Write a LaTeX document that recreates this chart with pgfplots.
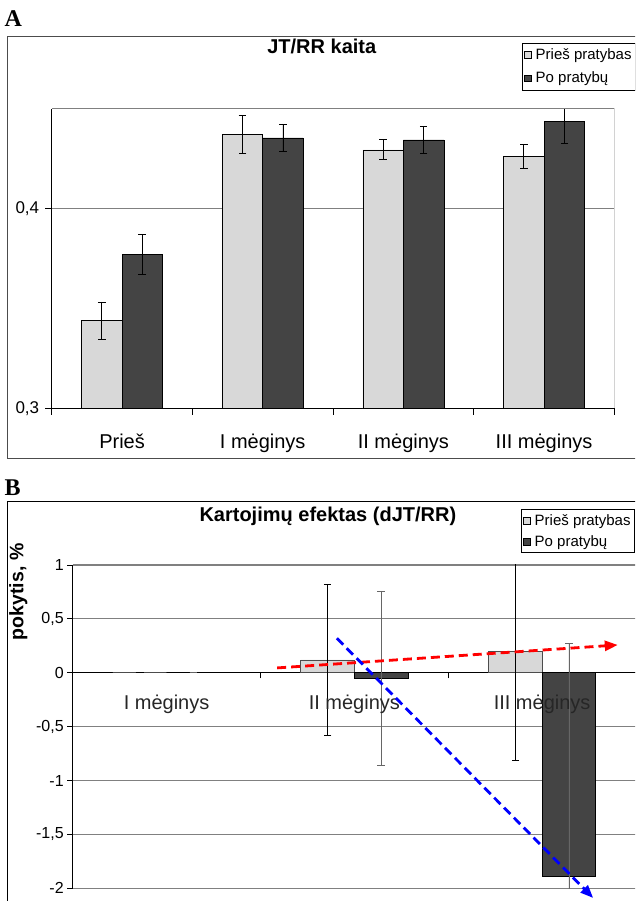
\documentclass[border=0pt]{standalone}
\usepackage{pgfplots}
\pgfplotsset{compat=1.18}
\usepackage{pgfplotstable}
\usepackage{fontspec}
\setmainfont{Liberation Sans}
\newfontfamily\lserif{Liberation Serif}
\usetikzlibrary{arrows.meta}
\definecolor{barlight}{RGB}{216,216,216}
\definecolor{bardark}{RGB}{68,68,68}
\definecolor{gridgray}{RGB}{128,128,128}

\pgfplotstableread{
x light lighterr dark darkerr
0 0.3440 0.0093 0.3770 0.0100
1 0.4373 0.0095 0.4355 0.0070
2 0.4295 0.0050 0.4345 0.0067
3 0.4261 0.0060 0.4439 0.0113
}\tableA

\pgfplotstableread{
x light lighterr dark darkerr
0 0.00 0.00 0.00 0.00
1 0.12 0.70 -0.05 0.81
2 0.20 1.01 -1.89 2.16
}\tableB

\pgfplotsset{
  legsq/.style={legend image code/.code={\draw[##1,draw=black,line width=0.5pt] (0pt,-3.3pt) rectangle (6.6pt,3.3pt); \path[draw=none,fill=none] (9.5pt,0pt) circle[radius=0pt];}},
}

\begin{document}
\begin{tikzpicture}
\useasboundingbox (0pt,0pt) rectangle (635pt,901pt);
\clip (0pt,0pt) rectangle (635pt,901pt);

% ---------- Panel A ----------
\draw[line width=1.2pt, black!70] (7.3pt,864.5pt) rectangle (720pt,442.7pt);
\node[anchor=base west, inner sep=0pt, font=\lserif\bfseries\fontsize{24}{24}\selectfont] at (4.5pt,874.3pt) {A};

\begin{axis}[
  at={(51.7pt,492.7pt)}, anchor=south west,
  scale only axis, width=562.7pt, height=299.4pt,
  xmin=-0.5, xmax=3.5, ymin=0.3, ymax=0.45,
  ybar=0pt, bar width=40.5pt,
  axis x line*=bottom, axis y line*=left,
  axis line style={black, line width=0.9pt, -},
  xtick={-0.5,0.5,1.5,2.5,3.5}, xticklabels={},
  extra x ticks={0,1,2,3},
  extra x tick labels={Prieš, I mėginys, II mėginys, III mėginys},
  extra x tick style={major tick length=0pt},
  xticklabel style={font=\fontsize{20}{24}\selectfont, anchor=base, yshift=-40pt},
  ytick={0.3,0.4}, ymajorgrids,
  grid style={gridgray, line width=1.3pt},
  tick align=outside, major tick length=6.5pt,
  tick style={black, line width=0.8pt},
  yticklabel style={font=\fontsize{17}{20}\selectfont, xshift=-2.5pt},
  /pgf/number format/use comma, /pgf/number format/fixed,
  /pgf/number format/precision=2, /pgf/number format/assume math mode=true,
  title={JT/RR kaita},
  title style={at={(0.48,1.1657)}, anchor=base, font=\bfseries\fontsize{20}{24}\selectfont},
  legend style={at={(0.835,1.221)}, anchor=north west, draw=black, line width=0.8pt,
    fill=white, font=\fontsize{15}{18}\selectfont, inner xsep=2pt, inner ysep=3.5pt,
    row sep=7pt, cells={anchor=west}},
  legsq,
]
\addplot[fill=barlight, draw=black, line width=0.6pt,
  error bars/.cd, y dir=both, y explicit,
  error bar style={black, line width=0.7pt},
  error mark options={rotate=90, black, mark size=3.8pt, line width=0.7pt}]
  table[x=x, y=light, y error=lighterr] {\tableA};
\addlegendentry{Prieš pratybas}
\addplot[fill=bardark, draw=black, line width=0.6pt,
  error bars/.cd, y dir=both, y explicit,
  error bar style={black, line width=0.7pt},
  error mark options={rotate=90, black, mark size=3.8pt, line width=0.7pt}]
  table[x=x, y=dark, y error=darkerr] {\tableA};
\addlegendentry{Po pratybų}
\draw[gridgray, line width=1pt] (rel axis cs:0,1) -- (rel axis cs:1,1) -- (rel axis cs:1,0);
\end{axis}

% ---------- Panel B ----------
\draw[line width=1.2pt, black] (7.3pt,399.3pt) rectangle (720pt,-20pt);
\node[anchor=base west, inner sep=0pt, font=\lserif\bfseries\fontsize{24}{24}\selectfont] at (4.5pt,405pt) {B};

\begin{axis}[
  at={(72.7pt,12.7pt)}, anchor=south west,
  scale only axis, width=563.3pt, height=323.3pt,
  xmin=-0.5, xmax=2.5, ymin=-2, ymax=1,
  ybar=0pt, bar width=53.6pt,
  axis x line*=middle, axis y line*=left,
  axis line style={black, line width=0.9pt, -},
  xtick={-0.5,0.5,1.5,2.5}, xticklabels={},
  ytick={-2,-1.5,-1,-0.5,0,0.5,1}, ymajorgrids,
  grid style={gridgray, line width=1.2pt},
  tick align=outside, major tick length=5.5pt,
  tick style={black, line width=0.8pt},
  yticklabel style={font=\fontsize{16}{19}\selectfont},
  /pgf/number format/use comma, /pgf/number format/fixed,
  /pgf/number format/precision=1, /pgf/number format/assume math mode=true,
  ylabel={pokytis, \%},
  ylabel style={at={(axis description cs:-0.0877,0.917)}, anchor=base, font=\bfseries\fontsize{19.5}{22}\selectfont},
  title={Kartojimų efektas (dJT/RR)},
  title style={at={(0.453,1.116)}, anchor=base, font=\bfseries\fontsize{20}{24}\selectfont},
  legend style={at={(0.795,1.173)}, anchor=north west, draw=black, line width=0.8pt,
    fill=white, font=\fontsize{15}{18}\selectfont, inner xsep=2pt, inner ysep=3pt,
    row sep=4.5pt, cells={anchor=west}},
  legsq,
]
\addplot[fill=barlight, draw=black!70, line width=0.6pt,
  error bars/.cd, y dir=both, y explicit,
  error bar style={black, line width=0.7pt},
  error mark options={rotate=90, black, mark size=3.8pt, line width=0.7pt}]
  table[x=x, y=light, y error=lighterr] {\tableB};
\addlegendentry{Prieš pratybas}
\addplot[fill=bardark, draw=black, line width=0.6pt,
  error bars/.cd, y dir=both, y explicit,
  error bar style={black!60, line width=0.7pt},
  error mark options={rotate=90, black!60, mark size=3.8pt, line width=0.7pt}]
  table[x=x, y=dark, y error=darkerr] {\tableB};
\addlegendentry{Po pratybų}
\end{axis}

% category labels and arrows overlay (drawn above the bars)
\begin{axis}[
  at={(72.7pt,12.7pt)}, anchor=south west,
  scale only axis, width=563.3pt, height=323.3pt,
  xmin=-0.5, xmax=2.5, ymin=-2, ymax=1,
  clip=false,
  axis x line*=middle, axis y line=none,
  x axis line style={draw=none},
  xtick={0,1,2}, xticklabels={I mėginys, II mėginys, III mėginys},
  ytick=\empty, major tick length=0pt, tick style={draw=none},
  xticklabel style={font=\fontsize{20}{24}\selectfont, anchor=base, yshift=-37pt, text=black!85},
]
\addplot[red, line width=2.8pt, dash pattern=on 9pt off 5pt,
  -{Triangle[length=13pt,width=10pt]}, mark=none]
  coordinates {(0.589,0.045) (2.403,0.258)};
\addplot[blue, line width=2.8pt, dash pattern=on 9pt off 5pt,
  -{Triangle[length=13pt,width=10pt]}, mark=none]
  coordinates {(0.907,0.32) (2.272,-2.09)};
\end{axis}
\end{tikzpicture}
\end{document}
